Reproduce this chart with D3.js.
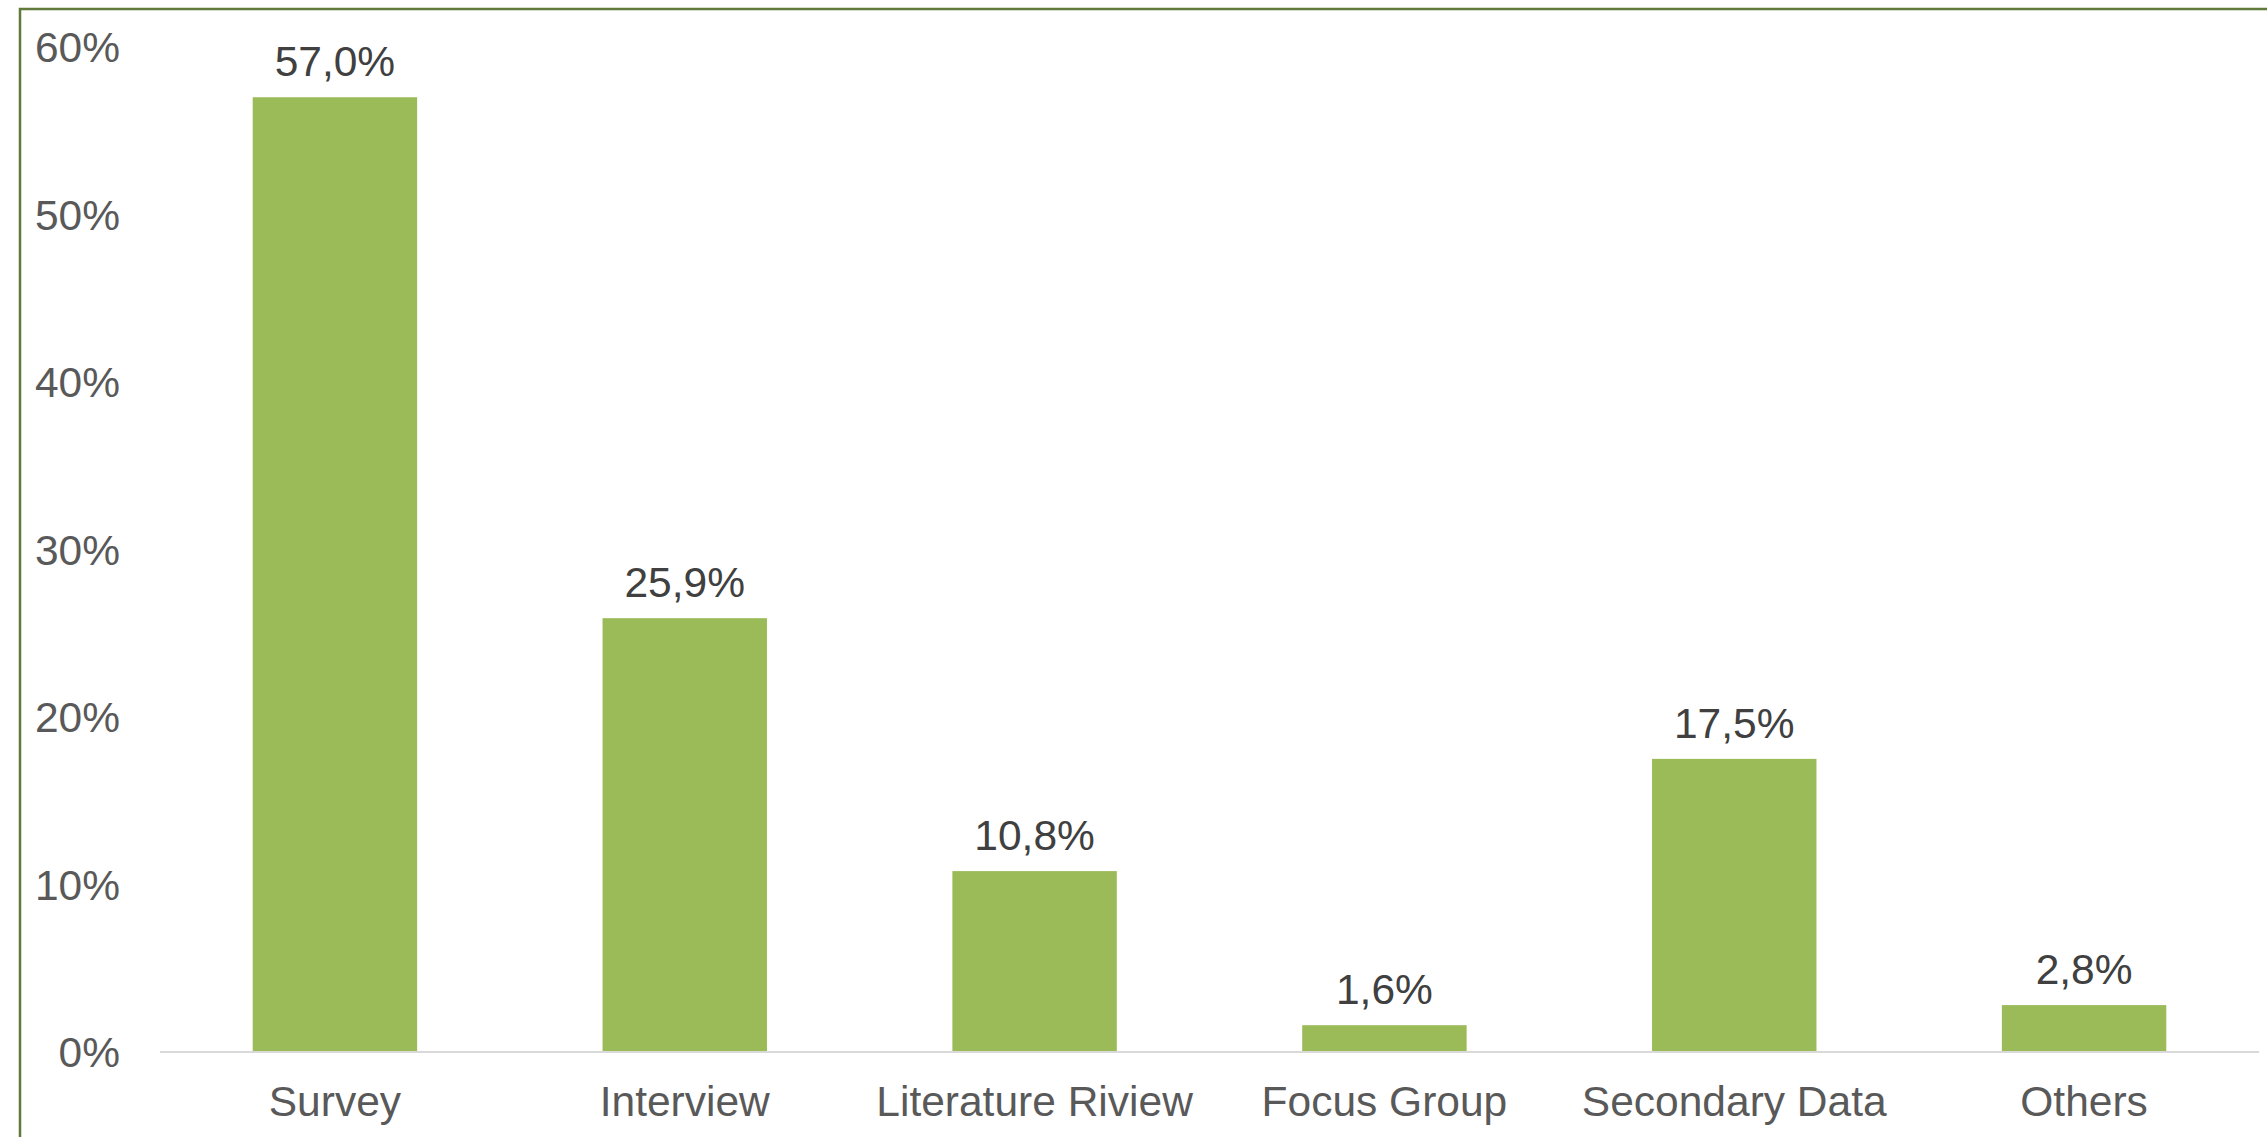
<!DOCTYPE html>
<html lang="en">
<head>
    <meta charset="UTF-8">
    <title>Data collection methods</title>
    <script src="https://d3js.org/d3.v7.min.js"></script>
    <style>
        body { margin: 0; background: #fff; }
        text { font-family: "Liberation Sans", Arial, sans-serif; }
        .frame { fill: none; stroke: #5f7a3a; stroke-width: 2.5; }
        .bar { fill: #9bbb59; }
        .ylabel, .xlabel { fill: #595959; font-size: 42.5px; }
        .vlabel { fill: #404040; font-size: 42.5px; }
    </style>
</head>
<body>
<script>
    const width = 2267;
    const height = 1137;

    // data
    const categories = ["Survey", "Interview", "Literature Riview", "Focus Group", "Secondary Data", "Others"];
    const values = [57.0, 25.9, 10.8, 1.6, 17.5, 2.8];
    const yTicks = [0, 10, 20, 30, 40, 50, 60];

    const svg = d3.select("body").append("svg")
            .attr("width", width).attr("height", height);

    // chart frame: only top and left edges fall inside the picture
    svg.append("rect")
            .attr("class", "frame")
            .attr("x", 20).attr("y", 9)
            .attr("width", width + 50).attr("height", height + 50);

    const x = d3.scaleBand()
            .domain(categories)
            .range([160, 2259])
            .paddingInner(0.53)
            .paddingOuter(0.265);

    const y = d3.scaleLinear()
            .domain([0, 60])
            .range([1052, 47]);

    // y tick labels (no gridlines)
    svg.append("g").selectAll("text")
            .data(yTicks).enter()
            .append("text")
            .attr("class", "ylabel")
            .attr("x", 120)
            .attr("y", d => y(d))
            .attr("dy", "0.36em")
            .attr("text-anchor", "end")
            .text(d => d + "%");

    // bars
    svg.append("g").selectAll("rect")
            .data(values).enter()
            .append("rect")
            .attr("class", "bar")
            .attr("x", (d, i) => x(categories[i]))
            .attr("y", d => y(d))
            .attr("width", x.bandwidth())
            .attr("height", d => y(0) - y(d));

    // baseline
    svg.append("line")
            .attr("x1", 160).attr("x2", 2259)
            .attr("y1", y(0)).attr("y2", y(0))
            .attr("stroke", "#d9d9d9")
            .attr("stroke-width", 2);

    // value labels, comma decimal
    svg.append("g").selectAll("text")
            .data(values).enter()
            .append("text")
            .attr("class", "vlabel")
            .attr("x", (d, i) => x(categories[i]) + x.bandwidth() / 2)
            .attr("y", d => y(d) - 21)
            .attr("text-anchor", "middle")
            .text(d => d.toFixed(1).replace(".", ",") + "%");

    // category labels
    svg.append("g").selectAll("text")
            .data(categories).enter()
            .append("text")
            .attr("class", "xlabel")
            .attr("x", d => x(d) + x.bandwidth() / 2)
            .attr("y", 1116)
            .attr("text-anchor", "middle")
            .text(d => d);
</script>
</body>
</html>
